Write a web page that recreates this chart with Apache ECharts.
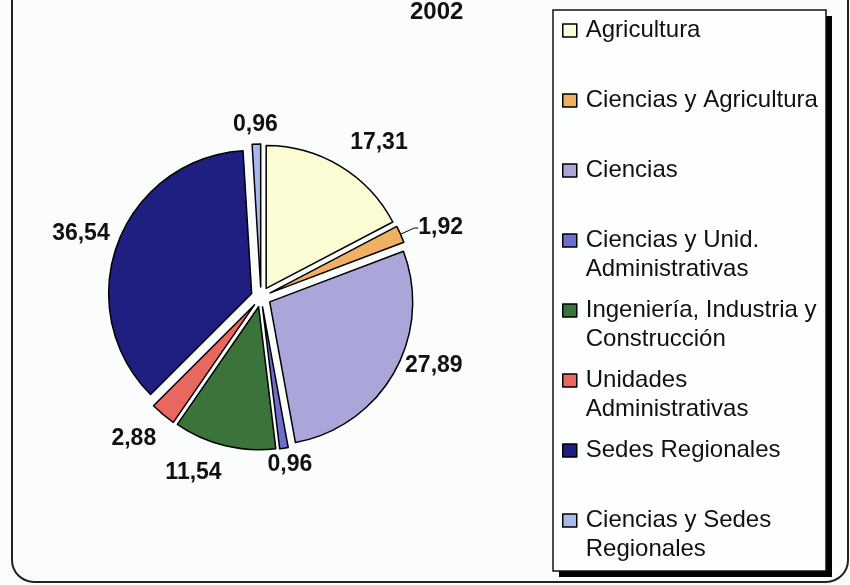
<!DOCTYPE html>
<html><head><meta charset="utf-8">
<script src="https://cdn.jsdelivr.net/npm/echarts@6/dist/echarts.min.js"></script>
<style>html,body{margin:0;padding:0;background:#fbfdfd;} #c{width:850px;height:585px;}</style>
</head><body><div id="c"></div>
<script>
// ---- data ----
const chartTitle = '2002';
const categories = ['Agricultura', 'Ciencias y Agricultura', 'Ciencias', 'Ciencias y Unid. Administrativas',
  'Ingeniería, Industria y Construcción', 'Unidades Administrativas', 'Sedes Regionales', 'Ciencias y Sedes Regionales'];
const legendLabels = ['Agricultura', 'Ciencias y Agricultura', 'Ciencias', 'Ciencias y Unid.\nAdministrativas',
  'Ingeniería, Industria y\nConstrucción', 'Unidades\nAdministrativas', 'Sedes Regionales', 'Ciencias y Sedes\nRegionales'];
const values = [17.31, 1.92, 27.89, 0.96, 11.54, 2.88, 36.54, 0.96];

// ---- styling ----
const colors = ['#fbfbd4', '#eeb062', '#aaa6d9', '#6e6ecf', '#3a743a', '#e8675e', '#1e1f80', '#a9b9ec'];
const labelLen = [27, 15, -14, 17, 28, 31, 27, 19];
const labelLen2 = [-4, 4, 23, -19, -4, -13, -17, -22];
const labelLineShown = [false, true, false, false, false, false, false, false];

const chart = echarts.init(document.getElementById('c'), null, {renderer: 'canvas'});
const fmt = v => v.toFixed(2).replace('.', ',');

const data = categories.map((name, i) => ({
  name: name,
  value: values[i],
  selected: true,
  itemStyle: {color: colors[i]},
  labelLine: {show: labelLineShown[i], length: labelLen[i], length2: labelLen2[i]}
}));

chart.setOption({
  backgroundColor: '#fbfdfd',
  animation: false,
  title: {
    text: chartTitle, left: 410, top: 0, padding: 0,
    textStyle: {fontFamily: 'Liberation Sans, Arial, sans-serif', fontSize: 24, fontWeight: 'bold', color: '#111'}
  },
  graphic: [
    {type: 'rect', z: 0, shape: {x: 12, y: -30, width: 836, height: 612, r: 22},
     style: {fill: 'none', stroke: '#222', lineWidth: 2}},
    {type: 'rect', z: 0, shape: {x: 559, y: 16, width: 273, height: 561},
     style: {fill: '#000'}},
    {type: 'rect', z: 0, shape: {x: 553, y: 10, width: 273, height: 561},
     style: {fill: '#fdfefe', stroke: '#111', lineWidth: 1.5}}
  ],
  legend: {
    orient: 'vertical', left: 562, top: -13, padding: 0,
    itemWidth: 14, itemHeight: 13, itemGap: -17,
    selectedMode: false,
    itemStyle: {borderColor: '#000', borderWidth: 1.5},
    data: categories.map(n => ({name: n, icon: 'rect'})),
    formatter: function (name) {
      const lines = legendLabels[categories.indexOf(name)].split('\n');
      return ' \n' + lines[0] + '\n' + (lines[1] || ' ');
    },
    textStyle: {fontFamily: 'Liberation Sans, Arial, sans-serif', fontSize: 24, lineHeight: 29, color: '#111', padding: [0, 0, 0, 4]}
  },
  series: [{
    type: 'pie',
    center: [261, 297],
    radius: 143,
    startAngle: 90,
    clockwise: true,
    selectedMode: 'multiple',
    selectedOffset: 10,
    avoidLabelOverlap: false,
    minShowLabelAngle: 0,
    itemStyle: {borderColor: '#000', borderWidth: 1.5},
    emphasis: {disabled: true},
    select: {itemStyle: {borderColor: '#000', borderWidth: 1.5}},
    label: {
      show: true, position: 'outside', distanceToLabelLine: 0,
      formatter: p => fmt(p.value),
      fontFamily: 'Liberation Sans, Arial, sans-serif', fontSize: 23, fontWeight: 'bold', color: '#111'
    },
    labelLine: {lineStyle: {color: '#000', width: 1}},
    data: data
  }]
});
</script></body></html>
